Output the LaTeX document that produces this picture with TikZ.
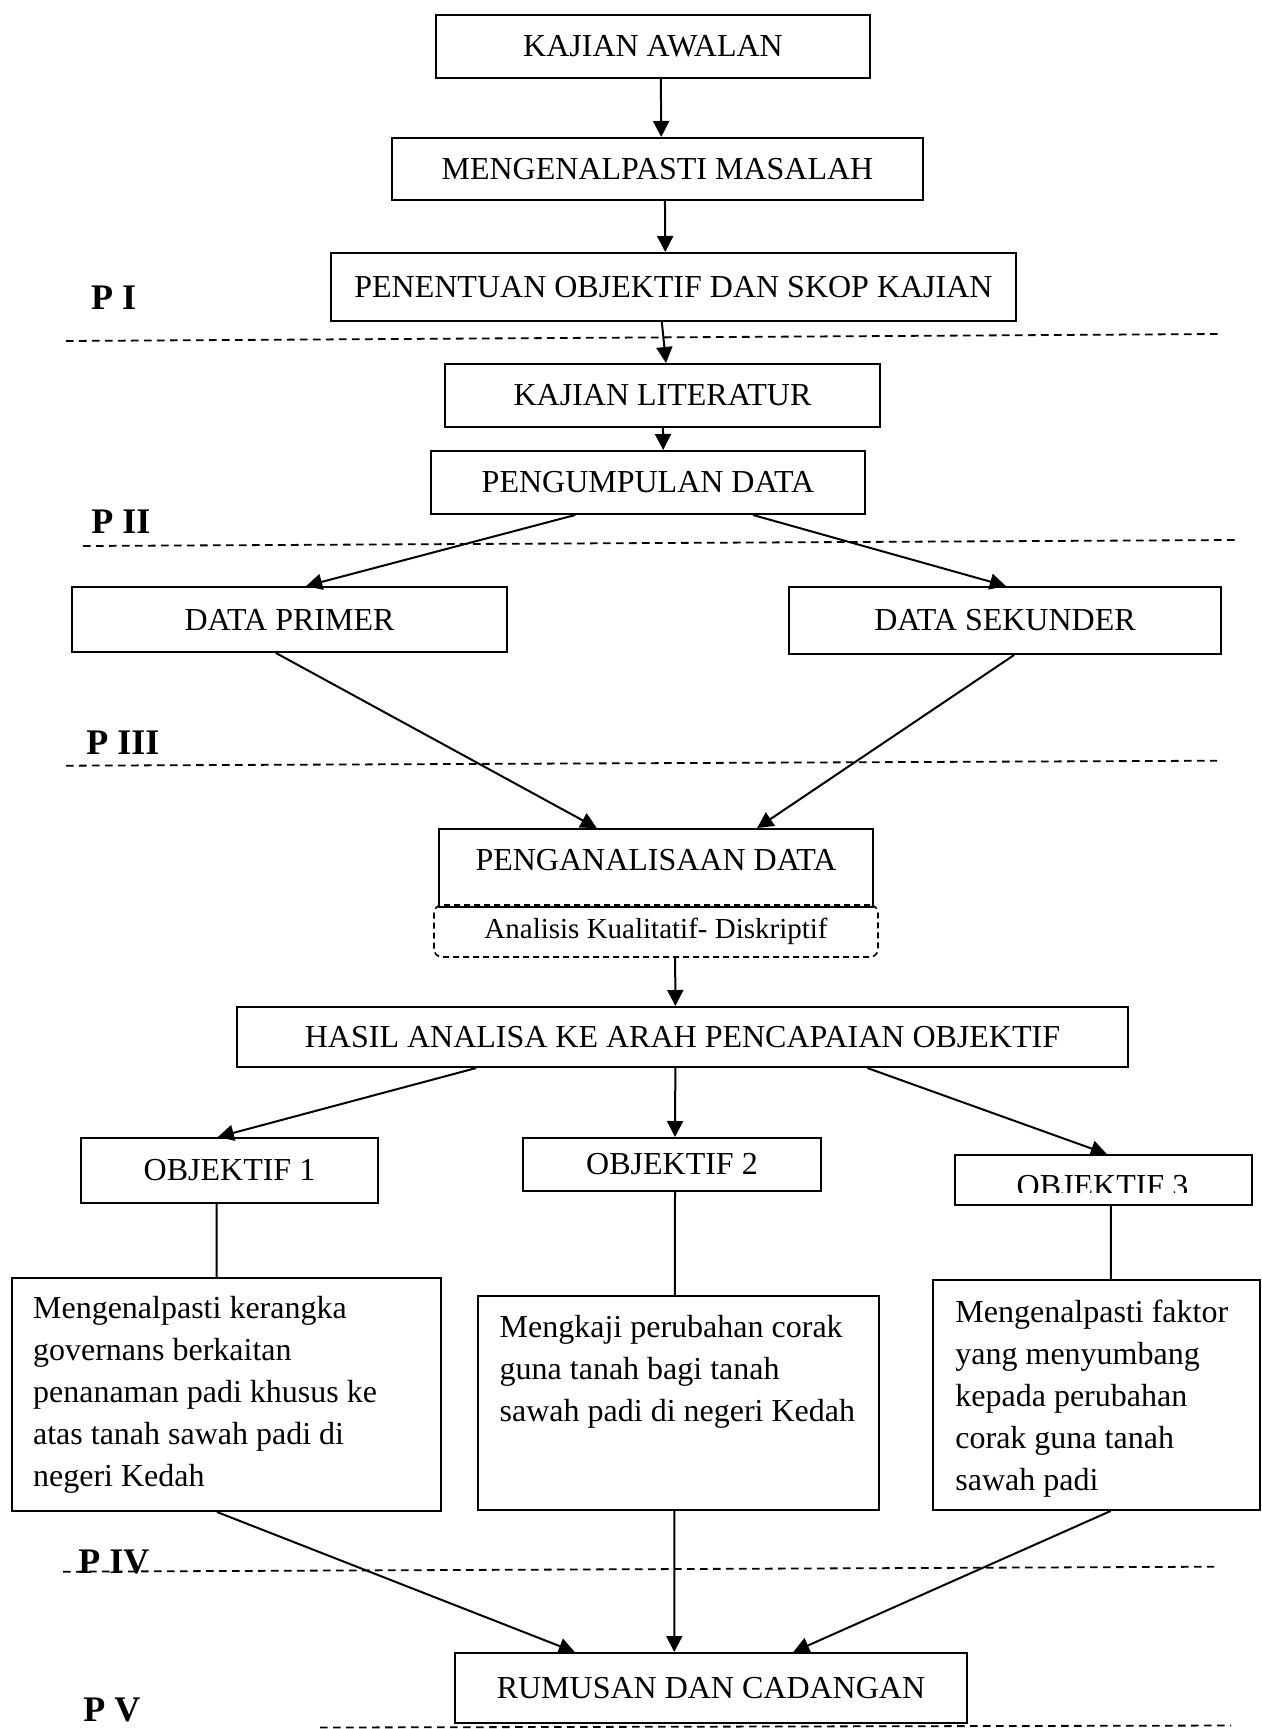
\documentclass[tikz,border=0pt]{standalone}
\usepackage{fontspec}
\setmainfont{Liberation Serif}
\usetikzlibrary{arrows.meta,calc}
\tikzset{
 box/.style={draw, line width=1pt, rectangle, inner sep=0pt, font=\fontsize{16}{19}\selectfont},
 arr/.style={line width=1pt, -{Triangle[length=8pt,width=8pt]}},
 conn/.style={line width=1pt},
 sep/.style={dash pattern=on 3.8pt off 2.7pt, line width=0.9pt},
 plabel/.style={anchor=base west, inner sep=0pt, font=\bfseries\fontsize{18}{20}\selectfont},
 body/.style={anchor=north west, inner sep=0pt, align=left, font=\fontsize{16}{21}\selectfont},
 dbox/.style={draw, dash pattern=on 3pt off 2pt, rounded corners=4pt, line width=0.8pt, inner sep=0pt, font=\fontsize{14.5}{17}\selectfont},
}
\begin{document}
\begin{tikzpicture}[x=0.5pt,y=-0.5pt]
\useasboundingbox (0,0) rectangle (1262,1729);

% separators
\draw[sep] (66,341) -- (1219,334);
\draw[sep] (83,546) -- (1235,540);
\draw[sep] (66,765.7) -- (1217,760.7);
\draw[sep] (63,1571.7) -- (1214,1566.7);
\draw[sep] (320,1727.5) -- (1231,1725.5);

% phase labels
\node[plabel] (p1) at (90.7,309.3) {P I};
\node[plabel] (p2) at (91,533.5) {P II};
\node[plabel] (p3) at (86,754) {P III};
\node[plabel] (p4) at (78,1573) {P IV};
\node[plabel] (p5) at (83,1721) {P V};

% boxes
\node[box, minimum width=217pt, minimum height=31.5pt] (awal) at (653,46.5) {KAJIAN AWALAN};
\node[box, minimum width=265.5pt, minimum height=31pt] (masalah) at (657.5,169) {MENGENALPASTI MASALAH};
\node[box, minimum width=342.5pt, minimum height=34pt] (penentuan) at (673.5,287) {PENENTUAN OBJEKTIF DAN SKOP KAJIAN};
\node[box, minimum width=217.5pt, minimum height=31.5pt] (literatur) at (662.5,395.5) {KAJIAN LITERATUR};
\node[box, minimum width=217pt, minimum height=31.5pt] (kumpul) at (648,482.5) {PENGUMPULAN DATA};
\node[box, minimum width=217.5pt, minimum height=32.5pt] (primer) at (289.5,619.5) {DATA PRIMER};
\node[box, minimum width=216pt, minimum height=33.5pt] (sekunder) at (1005,620.5) {DATA SEKUNDER};
\node[dbox, minimum width=222pt, minimum height=26pt] (kual) at (656,931) {Analisis Kualitatif- Diskriptif};
\node[box, minimum width=217pt, minimum height=39pt, text height=12.7pt, text depth=10pt] (analisa) at (656,868) {PENGANALISAAN DATA};
\node[box, minimum width=445.5pt, minimum height=30pt] (hasil) at (682.5,1037) {HASIL ANALISA KE ARAH PENCAPAIAN OBJEKTIF};
\node[box, minimum width=148.5pt, minimum height=32.5pt] (obj1) at (229.5,1170.5) {OBJEKTIF 1};
\node[box, minimum width=149pt, minimum height=26.5pt] (obj2) at (672,1164.5) {OBJEKTIF 2};
\node[box, minimum width=148.5pt, minimum height=25pt] (obj3) at (1103.5,1180) {};
\begin{scope}
\clip (955,1155) rectangle (1252,1192);
\node[anchor=base, inner sep=0pt, font=\fontsize{16}{19}\selectfont] (obj3txt) at (1102.5,1196) {OBJEKTIF 3};
\end{scope}

\node[box, minimum width=214.5pt, minimum height=116.5pt] (t1) at (226.5,1394.5) {};
\node[body] (t1txt) at (32.7,1296) {Mengenalpasti kerangka\\governans berkaitan\\penanaman padi khusus ke\\atas tanah sawah padi di\\negeri Kedah};
\node[box, minimum width=200.5pt, minimum height=107pt] (t2) at (678.5,1403) {};
\node[body] (t2txt) at (499.3,1314.8) {Mengkaji perubahan corak\\guna tanah bagi tanah\\sawah padi di negeri Kedah};
\node[box, minimum width=163.5pt, minimum height=115pt] (t3) at (1096.5,1395) {};
\node[body] (t3txt) at (955,1300) {Mengenalpasti faktor\\yang menyumbang\\kepada perubahan\\corak guna tanah\\sawah padi};

\node[box, minimum width=256pt, minimum height=35pt] (rumusan) at (711,1688) {RUMUSAN DAN CADANGAN};

% connectors
\draw[arr] ($(awal.south west)!0.518!(awal.south east)$) -- ($(masalah.north west)!0.507!(masalah.north east)$);
\draw[arr] ($(masalah.south west)!0.514!(masalah.south east)$) -- ($(penentuan.north west)!0.488!(penentuan.north east)$);
\draw[arr] ($(penentuan.south west)!0.483!(penentuan.south east)$) -- ($(literatur.north west)!0.508!(literatur.north east)$);
\draw[arr] ($(literatur.south west)!0.501!(literatur.south east)$) -- ($(kumpul.north west)!0.535!(kumpul.north east)$);
\draw[arr] ($(kumpul.south west)!0.333!(kumpul.south east)$) -- ($(primer.north west)!0.538!(primer.north east)$);
\draw[arr] ($(kumpul.south west)!0.741!(kumpul.south east)$) -- ($(sekunder.north west)!0.502!(sekunder.north east)$);
\draw[arr] ($(primer.south west)!0.469!(primer.south east)$) -- ($(analisa.north west)!0.364!(analisa.north east)$);
\draw[arr] ($(sekunder.south west)!0.521!(sekunder.south east)$) -- ($(analisa.north west)!0.732!(analisa.north east)$);
\draw[arr] ($(kual.south west)!0.543!(kual.south east)$) -- ($(hasil.north west)!0.492!(hasil.north east)$);
\draw[arr] ($(hasil.south west)!0.269!(hasil.south east)$) -- ($(obj1.north west)!0.461!(obj1.north east)$);
\draw[arr] ($(hasil.south west)!0.492!(hasil.south east)$) -- ($(obj2.north west)!0.510!(obj2.north east)$);
\draw[arr] ($(hasil.south west)!0.707!(hasil.south east)$) -- ($(obj3.north west)!0.511!(obj3.north east)$);
\draw[conn] ($(obj1.south west)!0.457!(obj1.south east)$) -- ($(t1.north west)!0.477!(t1.north east)$);
\draw[conn] ($(obj2.south west)!0.510!(obj2.south east)$) -- ($(t2.north west)!0.491!(t2.north east)$);
\draw[conn] ($(obj3.south west)!0.525!(obj3.south east)$) -- ($(t3.north west)!0.544!(t3.north east)$);
\draw[arr] ($(t1.south west)!0.478!(t1.south east)$) -- ($(rumusan.north west)!0.235!(rumusan.north east)$);
\draw[arr] ($(t2.south west)!0.490!(t2.south east)$) -- ($(rumusan.north west)!0.4285!(rumusan.north east)$);
\draw[arr] ($(t3.south west)!0.543!(t3.south east)$) -- ($(rumusan.north west)!0.660!(rumusan.north east)$);
\end{tikzpicture}
\end{document}
